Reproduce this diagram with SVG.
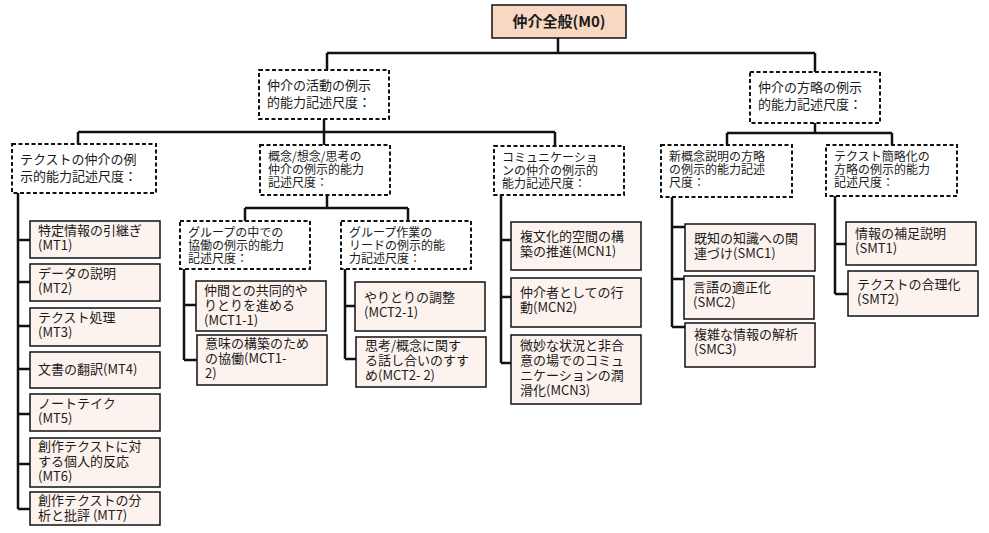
<svg xmlns="http://www.w3.org/2000/svg" width="989" height="533" viewBox="0 0 989 533">
<style>
text{font-family:"Noto Sans CJK JP","Noto Sans",sans-serif;font-size:13px;fill:#1a1a1a}
text.t{font-size:12px}
.d{fill:#fff;stroke:#111;stroke-width:2;stroke-dasharray:4,2.5}
.l{fill:#fdf3ee;stroke:#111;stroke-width:1.5}
.c{fill:none;stroke:#111;stroke-width:2.5}
</style>
<rect width="989" height="533" fill="#fff"/>
<g id="connectors" class="c">
<path d="M558 38V53M327 53H815M327 53V70M815 53V72"/>
<path d="M324 119V132M78 132H555M78 132V144M324 132V145M555 132V146"/>
<path d="M815 123V133M727 133H892M727 133V145M892 133V145"/>
<path d="M327 195V208M245 208H408M245 208V221M408 208V221"/>
<path d="M18 193V509M18 240H30M18 282H30M18 326H30M18 369H30M18 414H30M18 464H30M18 509H30"/>
<path d="M184 269V360M184 305H196M184 360H197"/>
<path d="M345 269V359M345 306H355M345 359H356"/>
<path d="M501 195V363M501 240H511M501 297H511M501 363H511"/>
<path d="M672 197V327M672 227H685M672 279H685M672 327H685"/>
<path d="M835 196V294M835 244H846M835 294H848"/>
</g>
<g id="m0"><rect x="492" y="5" width="134" height="33" fill="#f8d7c3" stroke="#111" stroke-width="1.5"/><text x="559" y="27" text-anchor="middle" font-weight="bold" style="font-size:15px">仲介全般(M0)</text></g>
<g id="act"><rect class="d" x="259" y="70" width="130" height="49"/><text x="267" y="90">仲介の活動の例示</text><text x="267" y="107">的能力記述尺度：</text></g>
<g id="str"><rect class="d" x="750" y="72" width="130" height="51"/><text x="758" y="92">仲介の方略の例示</text><text x="758" y="109">的能力記述尺度：</text></g>
<g id="mt"><rect class="d" x="12" y="144" width="144" height="49"/><text x="20" y="164">テクストの仲介の例</text><text x="20" y="181">示的能力記述尺度：</text></g>
<g id="mc"><rect class="d" x="260" y="145" width="130" height="50"/><text class="t" x="268" y="161">概念/想念/思考の</text><text class="t" x="268" y="174">仲介の例示的能力</text><text class="t" x="268" y="187">記述尺度：</text></g>
<g id="mcn"><rect class="d" x="494" y="146" width="130" height="49"/><text class="t" x="502" y="162">コミュニケーショ</text><text class="t" x="502" y="175">ンの仲介の例示的</text><text class="t" x="502" y="188">能力記述尺度：</text></g>
<g id="smc"><rect class="d" x="661" y="145" width="131" height="52"/><text class="t" x="669" y="161">新概念説明の方略</text><text class="t" x="669" y="174">の例示的能力記述</text><text class="t" x="669" y="187">尺度：</text></g>
<g id="smt"><rect class="d" x="826" y="145" width="131" height="51"/><text class="t" x="834" y="161">テクスト簡略化の</text><text class="t" x="834" y="174">方略の例示的能力</text><text class="t" x="834" y="187">記述尺度：</text></g>
<g id="mct1"><rect class="d" x="180" y="221" width="130" height="48"/><text class="t" x="188" y="237">グループの中での</text><text class="t" x="188" y="250">協働の例示的能力</text><text class="t" x="188" y="263">記述尺度：</text></g>
<g id="mct2"><rect class="d" x="341" y="221" width="130" height="48"/><text class="t" x="349" y="237">グループ作業の</text><text class="t" x="349" y="250">リードの例示的能</text><text class="t" x="349" y="263">力記述尺度：</text></g>
<g id="mt1"><rect class="l" x="30" y="221" width="130" height="37"/><text x="38" y="235">特定情報の引継ぎ</text><text x="38" y="250">(MT1)</text></g>
<g id="mt2"><rect class="l" x="30" y="264" width="130" height="37"/><text x="38" y="278">データの説明</text><text x="38" y="293">(MT2)</text></g>
<g id="mt3"><rect class="l" x="30" y="308" width="130" height="38"/><text x="38" y="322">テクスト処理</text><text x="38" y="337">(MT3)</text></g>
<g id="mt4"><rect class="l" x="30" y="352" width="130" height="36"/><text x="38" y="374">文書の翻訳(MT4)</text></g>
<g id="mt5"><rect class="l" x="30" y="394" width="130" height="37"/><text x="38" y="408">ノートテイク</text><text x="38" y="423">(MT5)</text></g>
<g id="mt6"><rect class="l" x="30" y="438" width="130" height="49"/><text x="38" y="451">創作テクストに対</text><text x="38" y="466">する個人的反応</text><text x="38" y="481">(MT6)</text></g>
<g id="mt7"><rect class="l" x="30" y="492" width="130" height="33"/><text x="38" y="505">創作テクストの分</text><text x="38" y="520">析と批評 (MT7)</text></g>
<g id="mct11"><rect class="l" x="196" y="281" width="130" height="50"/><text x="204" y="295">仲間との共同的や</text><text x="204" y="310">りとりを進める</text><text x="204" y="325">(MCT1-1)</text></g>
<g id="mct12"><rect class="l" x="197" y="335" width="130" height="50"/><text x="205" y="348">意味の構築のため</text><text x="205" y="363">の協働(MCT1-</text><text x="205" y="378">2)</text></g>
<g id="mct21"><rect class="l" x="355" y="282" width="130" height="49"/><text x="364" y="302">やりとりの調整</text><text x="364" y="317">(MCT2-1)</text></g>
<g id="mct22"><rect class="l" x="356" y="337" width="130" height="50"/><text x="365" y="350">思考/概念に関す</text><text x="365" y="365">る話し合いのすす</text><text x="365" y="380">め(MCT2- 2)</text></g>
<g id="mcn1"><rect class="l" x="511" y="222" width="130" height="48"/><text x="520" y="241">複文化的空間の構</text><text x="520" y="256">築の推進(MCN1)</text></g>
<g id="mcn2"><rect class="l" x="511" y="278" width="130" height="49"/><text x="520" y="297">仲介者としての行</text><text x="520" y="312">動(MCN2)</text></g>
<g id="mcn3"><rect class="l" x="511" y="335" width="130" height="69"/><text x="520" y="350">微妙な状況と非合</text><text x="520" y="365">意の場でのコミュ</text><text x="520" y="380">ニケーションの潤</text><text x="520" y="395">滑化(MCN3)</text></g>
<g id="smc1"><rect class="l" x="685" y="224" width="130" height="47"/><text x="694" y="243">既知の知識への関</text><text x="694" y="258">連づけ(SMC1)</text></g>
<g id="smc2"><rect class="l" x="684" y="276" width="130" height="43"/><text x="693" y="292">言語の適正化</text><text x="693" y="307">(SMC2)</text></g>
<g id="smc3"><rect class="l" x="685" y="323" width="130" height="44"/><text x="694" y="339">複雑な情報の解析</text><text x="694" y="354">(SMC3)</text></g>
<g id="smt1"><rect class="l" x="846" y="222" width="130" height="43"/><text x="855" y="238">情報の補足説明</text><text x="855" y="253">(SMT1)</text></g>
<g id="smt2"><rect class="l" x="848" y="271" width="130" height="45"/><text x="857" y="289">テクストの合理化</text><text x="857" y="304">(SMT2)</text></g>
</svg>
